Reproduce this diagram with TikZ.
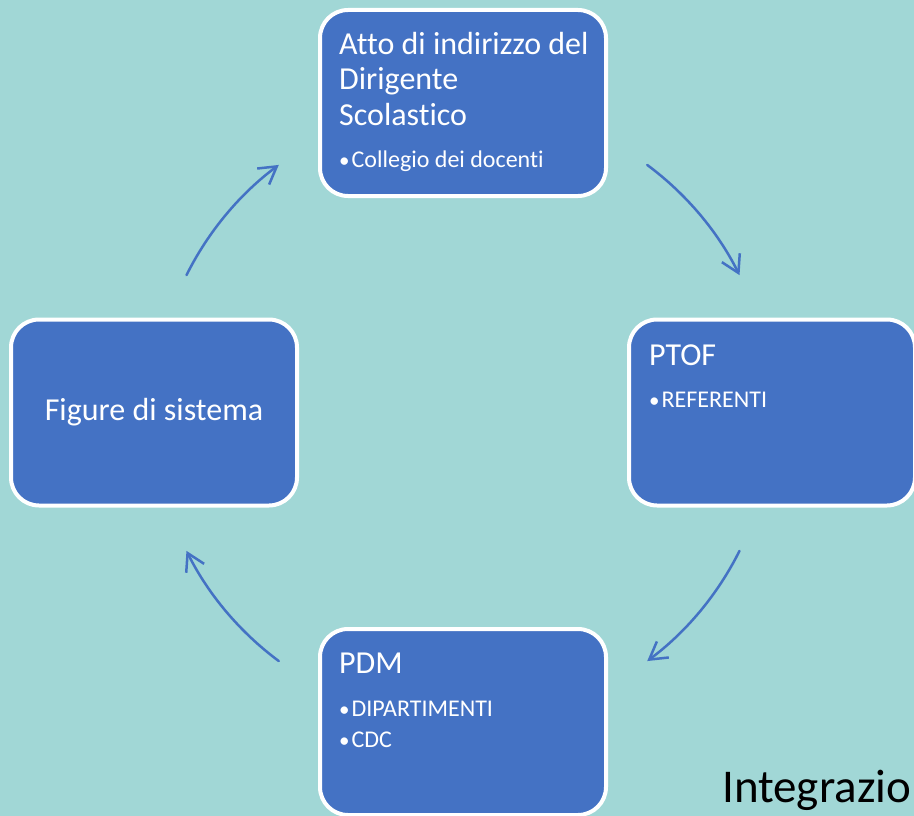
\documentclass[tikz,border=0pt]{standalone}
\usepackage{fontspec}
\setmainfont{Carlito}[Ligatures=NoCommon]
\usetikzlibrary{arrows.meta,calc}
\definecolor{bgteal}{RGB}{161,215,214}
\definecolor{boxblue}{RGB}{68,114,196}
\newcommand{\bdot}{{\fontsize{21}{24}\selectfont •}\kern2pt}
\tikzset{
  box/.style={draw=white, line width=4pt, fill=boxblue, rounded corners=28pt,
    minimum width=286pt, minimum height=186pt, inner sep=0pt},
  ttl/.style={text=white, anchor=base west, inner sep=0pt, align=left,
    font=\fontsize{32}{35}\selectfont},
  bul/.style={text=white, anchor=base west, inner sep=0pt, align=left,
    font=\fontsize{24}{31}\selectfont},
  arr/.style={draw=boxblue, line width=2.5pt, line cap=round,
    -{Straight Barb[length=17pt,width=20pt,line width=2.5pt]}}
}
\begin{document}
\begin{tikzpicture}[x=1pt,y=-1pt]
\useasboundingbox (0,0) rectangle (914,816);
\fill[bgteal] (0,0) rectangle (914,816);
% boxes
\node[box] (top) at (463,103) {};
\node[box] (right) at (772,412.5) {};
\node[box] (left) at (154,412.5) {};
\node[box] (bottom) at (463,722) {};
% texts
\node[ttl] (topT) at (339,55) {Atto di indirizzo del};
\node[ttl] (topT2) at (339,90) {Dirigente};
\node[ttl] (topT3) at (339,125) {Scolastico};
\node[bul] (topB) at (339,167) {\bdot Collegio dei docenti};
\node[ttl] (rightT) at (649,365) {PTOF};
\node[bul] (rightB) at (649,407) {\bdot REFERENTI};
\node[text=white, inner sep=0pt, font=\fontsize{32}{35}\selectfont] (leftT) at (left) {Figure di sistema};
\node[ttl] (bottomT) at (339,673) {PDM};
\node[bul] (bottomB1) at (339,716) {\bdot DIPARTIMENTI};
\node[bul] (bottomB2) at (339,747) {\bdot CDC};
\node[anchor=base west, inner sep=0pt, text=black, font=\fontsize{47}{56}\selectfont] (integr) at (722,802) {Integrazio};
% arrows
\coordinate (C) at (463,413);
\coordinate (a1) at ($(C)+(-53.4:309)$);
\coordinate (a2) at ($(C)+(26.5:309)$);
\coordinate (a3) at ($(C)+(126.6:309)$);
\coordinate (a4) at ($(C)+(-153.5:309)$);
\draw[arr] (a1) arc[start angle=-53.4, end angle=-26.5, radius=309];
\draw[arr] (a2) arc[start angle=26.5, end angle=53.4, radius=309];
\draw[arr] (a3) arc[start angle=126.6, end angle=153.5, radius=309];
\draw[arr] (a4) arc[start angle=-153.5, end angle=-126.6, radius=309];
\end{tikzpicture}
\end{document}
